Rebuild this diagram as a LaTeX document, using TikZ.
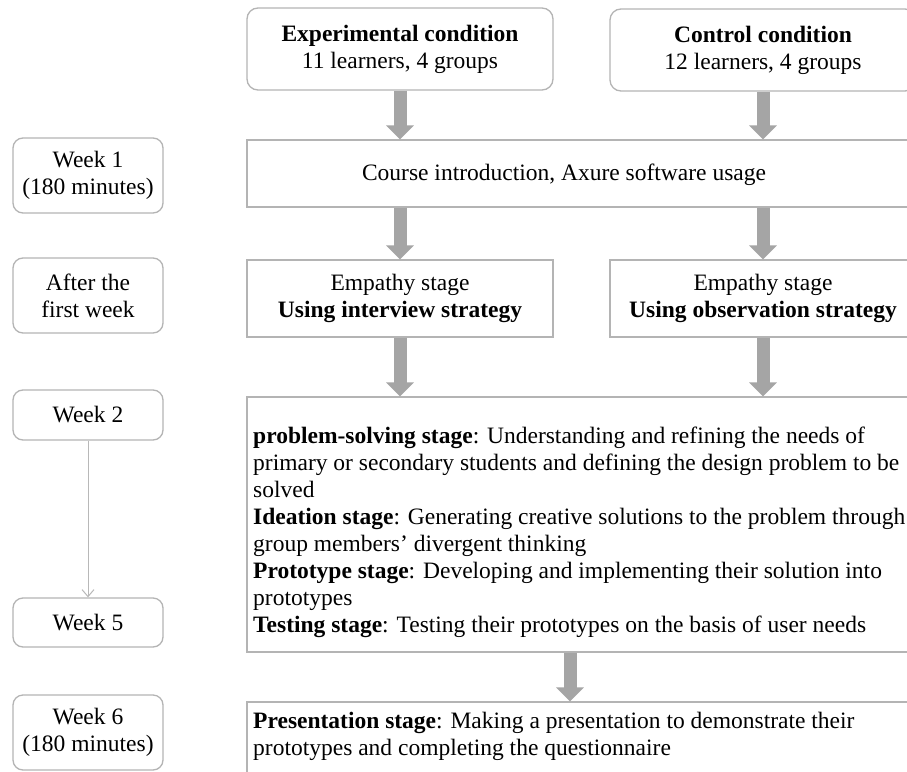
\documentclass[tikz,border=0pt]{standalone}
\usepackage{fontspec}
\setmainfont{Liberation Serif}
\usetikzlibrary{arrows.meta}
\definecolor{bordergray}{HTML}{B4B4B4}
\definecolor{arrowgray}{HTML}{A5A5A5}
\definecolor{thingray}{HTML}{B8B8B8}
\newcommand\fs{\fontsize{23.5}{27}\selectfont}
\tikzset{
  rbox/.style={draw=bordergray, line width=1.3pt, rounded corners=11pt, inner sep=0pt, align=center, font=\fs, fill=white},
  sbox/.style={draw=bordergray, line width=1.3pt, inner sep=0pt, align=center, font=\fs, fill=white},
  txt/.style={inner sep=0pt, align=center, font=\fs},
  ltxt/.style={inner sep=0pt, align=left, font=\fs, anchor=north west},
  blk/.style={draw=arrowgray, line width=13pt, -{Triangle[width=27pt,length=14pt]}},
  thin/.style={draw=thingray, line width=1pt, -{Straight Barb[length=7pt,width=12pt]}}
}
\begin{document}
\begin{tikzpicture}[x=1pt,y=-1pt]
\useasboundingbox (0,0) rectangle (907,771);
\clip (0,0) rectangle (907,771);
\fill[white] (0,0) rectangle (907,771);
% top condition boxes
\node[rbox, minimum width=306pt, minimum height=82pt] (exp) at (400,49) {\textbf{Experimental condition}\\11 learners, 4 groups};
\node[rbox, minimum width=306pt, minimum height=82pt] (ctrl) at (763,50) {\textbf{Control condition}\\12 learners, 4 groups};
% left column
\node[rbox, rounded corners=10pt, minimum width=150pt, minimum height=75pt] (wk1) at (88,175.5) {Week 1\\(180 minutes)};
\node[rbox, rounded corners=10pt, minimum width=150pt, minimum height=75pt] (after) at (88,295.5) {After the\\first week};
\node[rbox, rounded corners=10pt, minimum width=150pt, minimum height=50pt] (wk2) at (88,415) {Week 2};
\node[rbox, rounded corners=10pt, minimum width=150pt, minimum height=49pt] (wk5) at (88,622.5) {Week 5};
\node[rbox, rounded corners=10pt, minimum width=150pt, minimum height=75pt] (wk6) at (88,732.5) {Week 6\\(180 minutes)};
% course box
\node[sbox, minimum width=669pt, minimum height=67pt] (course) at (581.5,173.5) {};
\node[txt] (coursetxt) at (564,175) {Course introduction, Axure software usage};
% empathy boxes
\node[sbox, minimum width=306pt, minimum height=77pt] (empL) at (400,298.5) {Empathy stage\\\textbf{Using interview strategy}};
\node[sbox, minimum width=306pt, minimum height=77pt] (empR) at (763,298.5) {Empathy stage\\\textbf{Using observation strategy}};
% big box
\node[sbox, minimum width=669pt, minimum height=255pt] (big) at (581.5,524.5) {};
\node[ltxt] (bigtxt) at (253,424) {\strut\textbf{problem-solving stage}: Understanding and refining the needs of\\
primary or secondary students and defining the design problem to be\\
solved\\
\textbf{Ideation stage}: Generating creative solutions to the problem through\\
group members’ divergent thinking\\
\textbf{Prototype stage}: Developing and implementing their solution into\\
prototypes\\
\textbf{Testing stage}: Testing their prototypes on the basis of user needs};
% presentation box
\node[sbox, minimum width=669pt, minimum height=98pt] (pres) at (581.5,751) {};
\node[ltxt] (prestxt) at (253,709) {\strut\textbf{Presentation stage}: Making a presentation to demonstrate their\\
prototypes and completing the questionnaire};
% connectors
\coordinate (mid) at (570,0);
\draw[blk] (exp.south) -- (exp.south |- course.north);
\draw[blk] (ctrl.south) -- (ctrl.south |- course.north);
\draw[blk] (course.south -| empL.north) -- (empL.north);
\draw[blk] (course.south -| empR.north) -- (empR.north);
\draw[blk] (empL.south) -- (empL.south |- big.north);
\draw[blk] (empR.south) -- (empR.south |- big.north);
\draw[blk] (big.south -| mid) -- (pres.north -| mid);
\draw[thin] (wk2.south) -- (wk5.north);
\end{tikzpicture}
\end{document}
